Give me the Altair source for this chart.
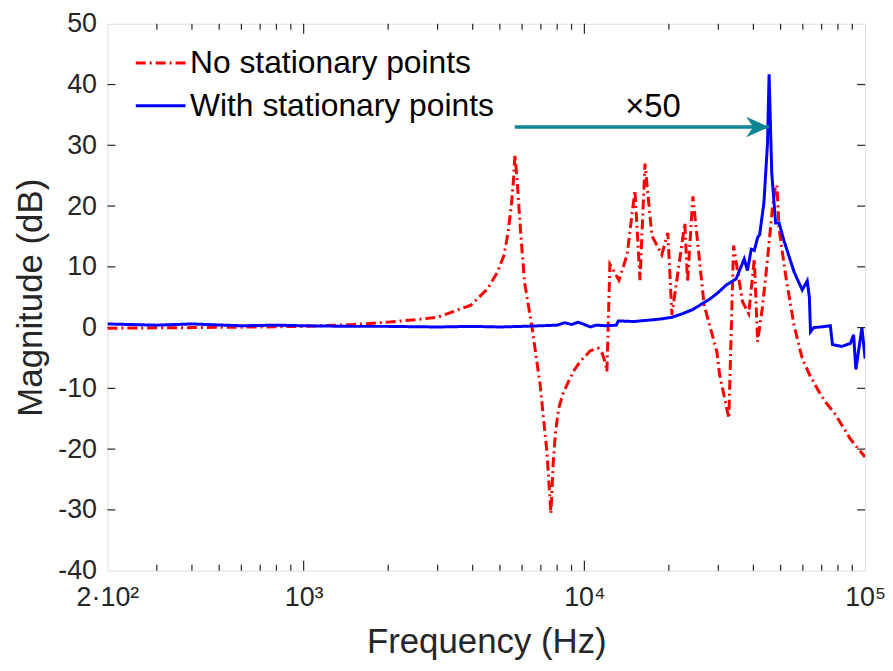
import altair as alt
import pandas as pd

# ---- data ----
red_f = [200, 400, 700, 1000, 1500, 2000, 2500, 3000, 3945, 4520, 4900, 5170, 5345, 5490, 5580,
         5660, 5770, 5930, 6120, 6520, 6950, 7350, 7600, 7750, 7900, 8100, 8400, 8780, 9200, 9650,
         10500, 11200, 11600, 11900, 12030, 12330, 13280, 14200, 15140, 15780, 16440, 17400, 18870, 19830,
         20500, 22800, 23300, 24350, 26700, 29650, 30300, 32700, 34000, 36600, 38500, 40300, 41400, 43000,
         44300, 45500, 46700, 47800, 48500, 49400, 52100, 55800, 59700, 63800, 68400, 73000, 78400, 83000,
         88500, 94000, 100000]
red_db = [-0.1, 0.0, 0.1, 0.2, 0.5, 0.9, 1.3, 1.7, 3.7, 6.4, 9.1, 11.9, 15.6, 20.0, 23.8,
          28.4, 23.8, 15.6, 7.5, -0.2, -9.3, -20.3, -30.6, -22.0, -17.0, -13.3, -10.8, -8.9, -7.0, -5.6,
          -3.8, -3.4, -4.3, -6.0, -7.2, 10.4, 7.8, 12.0, 22.6, 7.8, 27.0, 15.1, 12.0, 15.6,
          2.1, 17.2, 7.5, 21.6, 3.7, -4.0, -7.7, -14.9, 13.5, 4.2, 2.3, 11.3, -2.3, 3.1,
          8.6, 14.0, 19.4, 22.8, 23.5, 16.2, 8.6, 0.4, -5.1, -8.0, -10.5, -12.5, -14.3, -16.2,
          -18.3, -19.8, -21.3]

blue_f = [200, 300, 400, 600, 800, 1000, 1500, 2000, 3000, 4000, 5000, 6000, 7000,
          8000, 8500, 9000, 9500, 10000, 10500, 11000, 12000, 13000, 13200,
          15000, 18600, 20500, 22400, 24400, 26000, 28000, 30000, 32000, 34700,
          37100, 38100, 39300, 40300, 41400, 42100, 43600, 44900, 45500, 46500,
          48000, 49400, 51400, 55900, 59700, 62200, 63300, 63900, 65600, 69300,
          75200, 76500, 82700, 88600, 91000, 92700, 97400, 100000]
blue_db = [0.6, 0.4, 0.6, 0.3, 0.4, 0.3, 0.2, 0.2, 0.1, 0.2, 0.1, 0.2, 0.3,
           0.4, 0.8, 0.5, 0.9, 0.5, 0.1, 0.4, 0.3, 0.4, 1.1,
           1.0, 1.4, 1.7, 2.3, 3.0, 3.8, 4.7, 5.8, 7.0, 8.0,
           11.3, 9.4, 12.9, 12.7, 14.8, 15.3, 20.5, 30.3, 41.7, 25.4,
           17.2, 17.2, 14.3, 9.1, 6.2, 7.7, 5.0, -0.7, 0.0, 0.1,
           0.3, -2.8, -3.1, -2.6, -1.2, -6.9, 0.0, -5.1]

series_names = ["No stationary points", "With stationary points"]
series_colors = ["#ff0000", "#0000ff"]

x_tick_vals = [200, 1000, 10000, 100000]
x_tick_labels = ["2·10²", "10³", "10⁴", "10⁵"]
x_minor = [300, 400, 500, 600, 700, 800, 900, 2000, 3000, 4000, 5000, 6000, 7000, 8000, 9000,
           20000, 30000, 40000, 50000, 60000, 70000, 80000, 90000]
x_major = [1000, 10000]
y_tick_vals = [-40, -30, -20, -10, 0, 10, 20, 30, 40, 50]

arrow_from, arrow_to, arrow_db = 5650, 45500, 33.0
note_f, note_db, note_text = 17550, 34.7, "×50"

# ---- build tables ----
lines = pd.concat([
    pd.DataFrame({"f": red_f, "db": red_db, "s": series_names[0]}),
    pd.DataFrame({"f": blue_f, "db": blue_db, "s": series_names[1]}),
])

W, H = 762, 550
FONT = "Liberation Sans"
AX = "#262626"
TEAL = "#0a8595"

label_expr = " : ".join(
    f"datum.value == {v} ? '{t}'" for v, t in zip(x_tick_vals[:-1], x_tick_labels[:-1])
) + f" : '{x_tick_labels[-1]}'"

xscale = alt.Scale(type="log", domain=[200, 100000], nice=False)
yscale = alt.Scale(domain=[-40, 50], nice=False)

xaxis = alt.Axis(values=x_tick_vals, labelExpr=label_expr, tickSize=0, domain=False, grid=False,
                 labelFontSize=27, labelFont=FONT, labelColor=AX, labelPadding=14,
                 labelOverlap=False, labelFlush=False, labelBound=False,
                 titleFontSize=35, titleFont=FONT, titleColor=AX, titleFontWeight="normal",
                 titlePadding=14)
yaxis = alt.Axis(values=y_tick_vals, labelExpr="'' + datum.value", tickSize=0, domain=False, grid=False,
                 labelFontSize=27, labelFont=FONT, labelColor=AX, labelPadding=11,
                 titleFontSize=35, titleFont=FONT, titleColor=AX, titleFontWeight="normal",
                 titlePadding=9)

xenc = alt.X("f:Q", scale=xscale, axis=xaxis, title="Frequency (Hz)")
yenc = alt.Y("db:Q", scale=yscale, axis=yaxis, title="Magnitude (dB)")

leg = alt.Legend(orient="none", legendX=27, legendY=13, title=None, symbolType="stroke",
                 symbolSize=2500, symbolStrokeWidth=3, labelFontSize=32, labelFont=FONT,
                 labelColor="black", labelLimit=600, rowPadding=-8, padding=0, labelOffset=3)

line_layer = alt.Chart(lines).mark_line(strokeWidth=3, clip=True).encode(
    x=xenc, y=yenc,
    color=alt.Color("s:N", scale=alt.Scale(domain=series_names, range=series_colors), legend=leg),
    strokeDash=alt.StrokeDash("s:N", scale=alt.Scale(domain=series_names, range=[[10, 4, 2, 4], [1, 0]]),
                              legend=leg),
    order=alt.Order("f:Q"),
)

arrow_df = pd.DataFrame({"f": [arrow_from], "f2": [arrow_to], "db": [arrow_db]})
arrow_line = alt.Chart(arrow_df).mark_rule(color=TEAL, strokeWidth=3.5).encode(
    x=xenc, x2="f2:Q", y=yenc)
head_df = pd.DataFrame({"f": [arrow_to], "db": [arrow_db]})
arrow_head = alt.Chart(head_df).mark_point(
    shape="M0,0L-1,-0.45L-0.7,0L-1,0.45Z", filled=True, size=2116, color=TEAL, opacity=1, strokeWidth=0
).encode(x=xenc, y=yenc)

note_df = pd.DataFrame({"f": [note_f], "db": [note_db], "t": [note_text]})
note = alt.Chart(note_df).mark_text(fontSize=33, font=FONT, color="black", align="center",
                                    baseline="alphabetic").encode(x=xenc, y=yenc, text="t:N")

minor_df = pd.DataFrame({"f": x_minor})
major_df = pd.DataFrame({"f": x_major})
ytick_df = pd.DataFrame({"db": y_tick_vals[1:-1]})


def rule(df, **kw):
    return alt.Chart(df).mark_rule(color=AX, strokeWidth=1.2).encode(**kw)


ticks = [
    rule(minor_df, x=xenc, y=alt.value(H), y2=alt.value(H - 6)),
    rule(minor_df, x=xenc, y=alt.value(0), y2=alt.value(6)),
    rule(major_df, x=xenc, y=alt.value(H), y2=alt.value(H - 10)),
    rule(major_df, x=xenc, y=alt.value(0), y2=alt.value(10)),
    rule(ytick_df, y=yenc, x=alt.value(0), x2=alt.value(8)),
    rule(ytick_df, y=yenc, x=alt.value(W), x2=alt.value(W - 8)),
]

chart = alt.layer(*ticks, line_layer, arrow_line, arrow_head, note).properties(
    width=W, height=H,
    padding={"left": 100, "top": 14, "right": 20, "bottom": 90},
    autosize=alt.AutoSizeParams(type="none"),
).configure_view(stroke=AX, strokeWidth=2).configure(background="white")

chart.save("out.html", embed_options={"renderer": "svg", "actions": False})
